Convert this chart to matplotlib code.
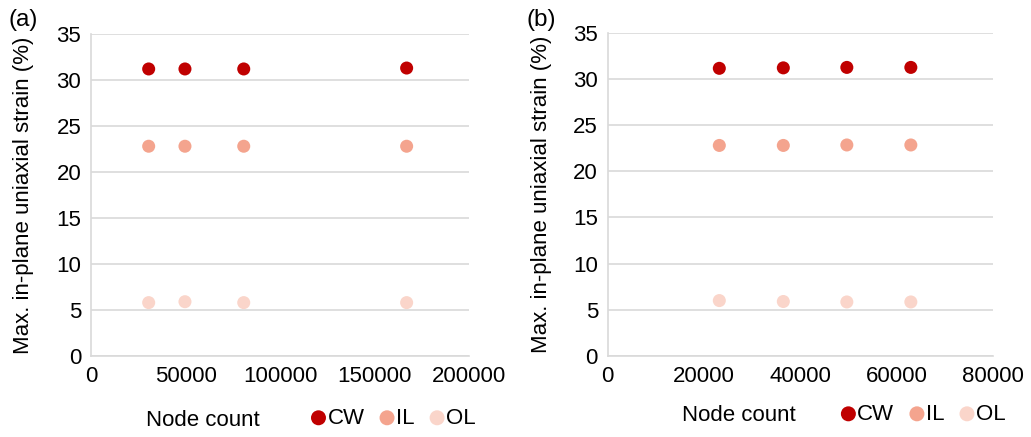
import matplotlib
matplotlib.use("Agg")
import matplotlib.pyplot as plt

plt.rcParams['font.family'] = ['Liberation Sans', 'DejaVu Sans']

# ---- data ----
series = ["CW", "IL", "OL"]
colors = {"CW": "#C00000", "IL": "#F4A48E", "OL": "#FAD5CA"}

nodes_a = [30500, 49700, 80800, 167000]
strain_a = {
    "CW": [31.2, 31.2, 31.2, 31.3],
    "IL": [22.8, 22.8, 22.8, 22.8],
    "OL": [5.8, 5.9, 5.8, 5.8],
}

nodes_b = [23200, 36500, 49700, 63000]
strain_b = {
    "CW": [31.15, 31.2, 31.25, 31.25],
    "IL": [22.8, 22.8, 22.85, 22.85],
    "OL": [6.0, 5.9, 5.85, 5.85],
}

fig = plt.figure(figsize=(10.31, 4.37), dpi=100)
ax_a = fig.add_axes([0.0883, 0.1854, 0.3666, 0.7368])
ax_b = fig.add_axes([0.5894, 0.1854, 0.3734, 0.7396])

fs = 16
grid_c = "#D9D9D9"


def style(ax, xmax, xstep, nodes, strain, label_xy, leg_xy):
    for s in series:
        ax.scatter(nodes, strain[s], s=88, color=colors[s], label=s,
                   edgecolors='none', zorder=3)
    ax.set_xlim(0, xmax)
    ax.set_ylim(0, 35)
    ax.set_xticks(range(0, xmax + 1, xstep))
    ax.set_yticks(range(0, 36, 5))
    ax.tick_params(length=0, labelsize=fs, colors="#000000", pad=7)
    ax.grid(axis='y', color=grid_c, linewidth=1.2)
    ax.set_axisbelow(True)
    for side in ['top', 'right']:
        ax.spines[side].set_visible(False)
    for side in ['left', 'bottom']:
        ax.spines[side].set_color(grid_c)
        ax.spines[side].set_linewidth(1.2)
    ax.set_ylabel("Max. in-plane uniaxial strain (%)", fontsize=fs)
    ax.set_xlabel("Node count", fontsize=fs)
    ax.xaxis.set_label_coords(*label_xy)
    ax.legend(loc='center', bbox_to_anchor=leg_xy, ncol=3, frameon=False,
              fontsize=fs, handletextpad=-0.2, columnspacing=0.42,
              handlelength=1.2, borderpad=0, markerscale=1.15)


style(ax_a, 200000, 50000, nodes_a, strain_a, (0.296, -0.168), (0.792, -0.193))
style(ax_b, 80000, 20000, nodes_b, strain_b, (0.341, -0.153), (0.812, -0.18))

ax_a.yaxis.set_label_coords(-0.152, 0.5)
ax_b.yaxis.set_label_coords(-0.144, 0.5)

fig.text(8 / 1031, 1 - 20 / 437, "(a)", fontsize=17.5, ha='left', va='center')
fig.text(527 / 1031, 1 - 20 / 437, "(b)", fontsize=17.5, ha='left', va='center')

fig.savefig("out.png", dpi=100)
